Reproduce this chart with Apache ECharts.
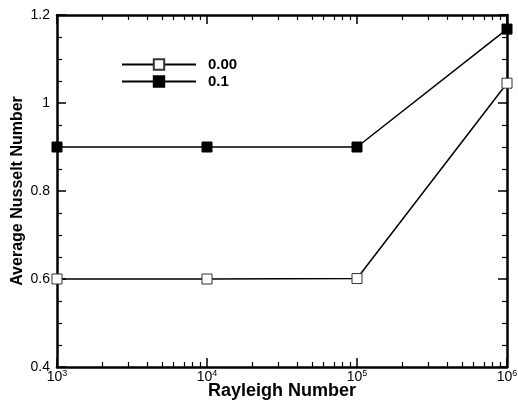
<!DOCTYPE html>
<html>
<head>
<meta charset="utf-8">
<script src="https://cdn.jsdelivr.net/npm/echarts@6/dist/echarts.min.js"></script>
<style>
  html, body { margin: 0; padding: 0; background: #fff; }
  #chart { width: 518px; height: 403px; }
</style>
</head>
<body>
<div id="chart"></div>
<script>
// Rayleigh numbers (x) and average Nusselt numbers for each case
const rayleigh = [1e3, 1e4, 1e5, 1e6];
const nuCase000 = [0.600, 0.600, 0.601, 1.045];
const nuCase01 = [0.900, 0.900, 0.900, 1.168];
const seriesNames = ['0.00', '0.1'];

// Axis ranges and tick settings
const yMin = 0.4, yMax = 1.2, yStep = 0.2;
const decadeMin = 3, decadeMax = 6;

// Minor tick positions for the logarithmic x axis (2..9 within every decade), in log10 space
const logMinor = [];
for (let d = decadeMin; d < decadeMax; d++) {
  for (let k = 2; k <= 9; k++) logMinor.push(d + Math.log10(k));
}

const font = 'Liberation Sans, Arial, Helvetica, sans-serif';
const black = '#000';

function pairs(xs, ys) { return xs.map((x, i) => [x, ys[i]]); }

const majorX = (position, showLabel) => ({
  type: 'log', logBase: 10, min: Math.pow(10, decadeMin), max: Math.pow(10, decadeMax),
  position: position, gridIndex: 0,
  axisLine: { show: true, onZero: false, lineStyle: { color: black, width: 2.5 } },
  axisTick: { show: true, inside: true, length: 9, lineStyle: { color: black, width: 1.5 } },
  splitLine: { show: false },
  minorTick: { show: false },
  axisLabel: showLabel ? {
    show: true, margin: 2, fontFamily: font,
    formatter: v => '{b|10}{s|' + Math.round(Math.log10(v)) + '}',
    rich: {
      b: { fontSize: 14, fontFamily: font, color: black },
      s: { fontSize: 9, fontFamily: font, color: black, verticalAlign: 'bottom', padding: [0, 0, 7, 0] }
    }
  } : { show: false },
  name: showLabel ? 'Rayleigh Number' : '',
  nameLocation: 'middle', nameGap: 15, nameMoveOverlap: false,
  nameTextStyle: { fontSize: 18, fontWeight: 'bold', fontFamily: font, color: black }
});

const minorX = (position) => ({
  type: 'value', min: decadeMin, max: decadeMax, position: position, gridIndex: 0,
  axisLine: { show: false, onZero: false },
  axisTick: { show: true, inside: true, length: 5, customValues: logMinor,
              lineStyle: { color: black, width: 1.2 } },
  axisLabel: { show: false },
  splitLine: { show: false }
});

const yAxisDef = (position, showLabel) => ({
  type: 'value', min: yMin, max: yMax, interval: yStep, position: position,
  axisLine: { show: true, onZero: false, lineStyle: { color: black, width: 2.5 } },
  axisTick: { show: true, inside: true, length: 9, lineStyle: { color: black, width: 1.5 } },
  minorTick: { show: true, splitNumber: 4, length: 5, lineStyle: { color: black, width: 1.2 } },
  splitLine: { show: false },
  axisLabel: { show: showLabel, fontSize: 14, fontFamily: font, color: black, margin: 7 },
  name: showLabel ? 'Average Nusselt Number' : '',
  nameLocation: 'middle', nameGap: 31, nameRotate: 90, nameMoveOverlap: false,
  nameTextStyle: { fontSize: 16, fontWeight: 'bold', fontFamily: font, color: black }
});

const chart = echarts.init(document.getElementById('chart'), null, { renderer: 'canvas' });
chart.setOption({
  animation: false,
  backgroundColor: '#fff',
  grid: { left: 57, right: 11, top: 15, bottom: 36, containLabel: false, outerBoundsMode: 'none' },
  legend: {
    orient: 'vertical', left: 121, top: 57, padding: 0,
    itemWidth: 74, itemHeight: 13, itemGap: 2,
    textStyle: { fontSize: 15, fontWeight: 'bold', fontFamily: font, color: black,
                 lineHeight: 13, padding: [0, 0, 0, 7] },
    data: seriesNames
  },
  xAxis: [majorX('bottom', true), majorX('top', false), minorX('bottom'), minorX('top')],
  yAxis: [yAxisDef('left', true), yAxisDef('right', false)],
  series: [
    {
      name: seriesNames[0], type: 'line', xAxisIndex: 0, yAxisIndex: 0,
      data: pairs(rayleigh, nuCase000), clip: false,
      symbol: 'rect', symbolSize: 10,
      lineStyle: { color: black, width: 1.5 },
      itemStyle: { color: '#fff', borderColor: '#333', borderWidth: 1 }
    },
    {
      name: seriesNames[1], type: 'line', xAxisIndex: 0, yAxisIndex: 0,
      data: pairs(rayleigh, nuCase01), clip: false,
      symbol: 'rect', symbolSize: 10,
      lineStyle: { color: black, width: 1.5 },
      itemStyle: { color: black, borderColor: black, borderWidth: 1 }
    }
  ]
});
</script>
</body>
</html>
